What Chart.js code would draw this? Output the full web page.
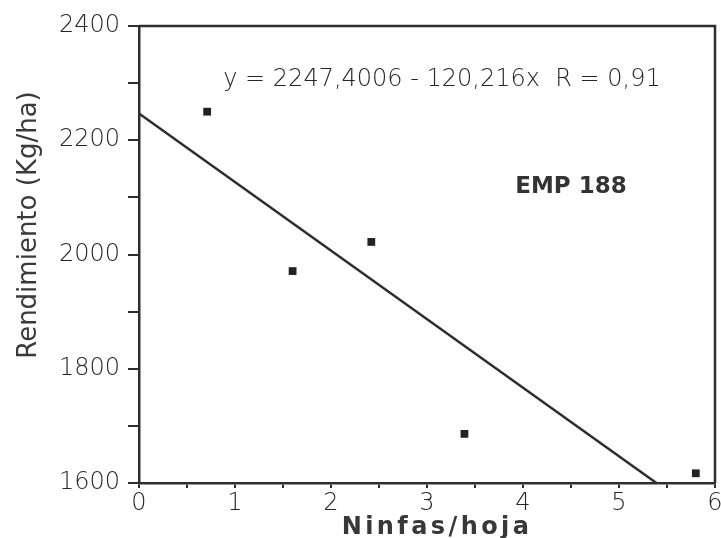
<!DOCTYPE html>
<html>
<head>
<meta charset="utf-8">
<script src="https://cdn.jsdelivr.net/npm/chart.js@4/dist/chart.umd.min.js"></script>
<style>
  html, body { margin: 0; padding: 0; background: #ffffff; }
  #wrap { width: 721px; height: 538px; }
</style>
</head>
<body>
<div id="wrap"><canvas id="c" width="721" height="538"></canvas></div>
<script>
// ---- data ----
const ninfasX = [0.71, 1.60, 2.42, 3.39, 5.80];
const rendimientoY = [2250, 1971, 2022, 1686, 1617];
const regressionX = [0, 5.39];
const regressionY = [2247, 1600];
const xTickLabels = [0, 1, 2, 3, 4, 5, 6];
const yTickLabels = [1600, 1800, 2000, 2200, 2400];
const equationText = 'y = 2247,4006 - 120,216x  R = 0,91';
const varietyText = 'EMP 188';
const xTitle = 'Ninfas/hoja';
const yTitle = 'Rendimiento (Kg/ha)';

const INK = '#2e2e2e';
const TEXT = '#262626';
const FONT = '"DejaVu Sans", sans-serif';

const scatterData = ninfasX.map((x, i) => ({ x: x, y: rendimientoY[i] }));
const lineData = regressionX.map((x, i) => ({ x: x, y: regressionY[i] }));

const decor = {
  id: 'decor',
  beforeDatasetsDraw(chart) {
    const { ctx, chartArea: a } = chart;
    ctx.save();
    ctx.strokeStyle = INK;
    ctx.lineWidth = 2.5;
    ctx.beginPath();
    ctx.moveTo(a.left, a.top);
    ctx.lineTo(a.right, a.top);
    ctx.lineTo(a.right, a.bottom);
    ctx.stroke();
    ctx.restore();
  },
  afterDraw(chart) {
    const { ctx } = chart;
    ctx.save();
    // equation
    ctx.fillStyle = TEXT;
    ctx.font = '300 24px ' + FONT;
    ctx.textAlign = 'center';
    ctx.textBaseline = 'alphabetic';
    ctx.fillText(equationText, 442, 86);
    // variety label
    ctx.fillStyle = '#333';
    ctx.font = 'bold 23px ' + FONT;
    ctx.fillText(varietyText, 571, 193);
    // x title
    ctx.font = 'bold 24px ' + FONT;
    ctx.letterSpacing = '3.4px';
    ctx.fillStyle = '#383838';
    ctx.fillText(xTitle, 437, 534);
    ctx.letterSpacing = '0px';
    // y title
    ctx.translate(36, 225);
    ctx.rotate(-Math.PI / 2);
    ctx.font = '26px ' + FONT;
    ctx.fillStyle = '#3a3a3a';
    ctx.fillText(yTitle, 0, 0);
    ctx.restore();
  }
};

new Chart(document.getElementById('c'), {
  type: 'scatter',
  data: {
    datasets: [
      {
        label: 'Rendimiento',
        data: scatterData,
        pointStyle: 'rect',
        pointRadius: 5.5,
        pointHoverRadius: 5.5,
        backgroundColor: '#222',
        borderColor: '#222',
        borderWidth: 0
      },
      {
        label: 'Regresión',
        data: lineData,
        showLine: true,
        pointRadius: 0,
        borderColor: INK,
        borderWidth: 2.5,
        fill: false
      }
    ]
  },
  options: {
    responsive: false,
    animation: false,
    devicePixelRatio: 1,
    layout: { padding: { left: 0, right: 6, top: 26, bottom: 0 } },
    plugins: {
      legend: { display: false },
      tooltip: { enabled: false },
      title: { display: false }
    },
    scales: {
      x: {
        type: 'linear',
        min: 0,
        max: 6,
        afterFit(scale) { scale.height = 55; scale.paddingLeft = 0; scale.paddingRight = 0; },
        border: { display: true, color: INK, width: 2.5 },
        grid: { display: true, drawOnChartArea: false, drawTicks: true, tickLength: 5, color: INK, lineWidth: 2 },
        ticks: {
          stepSize: 0.5,
          autoSkip: false,
          maxRotation: 0,
          padding: 1,
          color: TEXT,
          font: { family: FONT, size: 24, weight: 300 },
          callback(v) { return xTickLabels.includes(v) ? String(v) : ''; }
        },
        title: { display: false }
      },
      y: {
        type: 'linear',
        min: 1600,
        max: 2400,
        afterFit(scale) { scale.width = 139; scale.paddingTop = 0; scale.paddingBottom = 0; },
        border: { display: true, color: INK, width: 2.5 },
        grid: { display: true, drawOnChartArea: false, drawTicks: true, tickLength: 11, color: INK, lineWidth: 2 },
        ticks: {
          stepSize: 100,
          autoSkip: false,
          padding: 8,
          color: TEXT,
          font: { family: FONT, size: 24, weight: 300 },
          callback(v) { return yTickLabels.includes(v) ? String(v) : ''; }
        },
        title: { display: false }
      }
    }
  },
  plugins: [decor]
});
</script>
</body>
</html>
